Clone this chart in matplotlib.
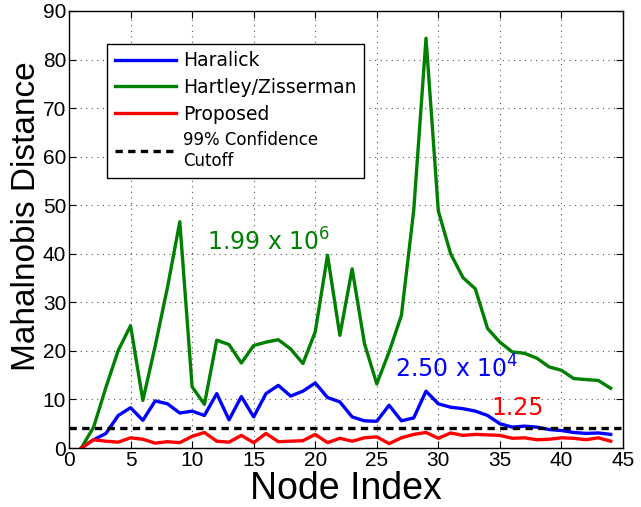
import matplotlib
matplotlib.use("Agg")
import matplotlib.pyplot as plt

node = list(range(1, 45))
haralick = [0, 1.7, 3.0, 6.7, 8.3, 5.7, 9.7, 9.1, 7.2, 7.6, 6.7, 11.2, 5.8, 10.6, 6.4,
            11.2, 12.9, 10.7, 11.7, 13.4, 10.4, 9.5, 6.4, 5.6, 5.5, 8.8, 5.6, 6.2, 11.7,
            9.1, 8.4, 8.1, 7.6, 6.7, 5.0, 4.3, 4.5, 4.3, 3.8, 3.6, 3.2, 3.0, 3.1, 2.8]
hartley = [0, 4.3, 12.5, 20.1, 25.2, 9.8, 21.0, 33.1, 46.6, 12.6, 9.0, 22.2, 21.3, 17.5,
           21.1, 21.8, 22.3, 20.4, 17.4, 23.9, 39.7, 23.2, 36.9, 21.5, 13.2, 19.8, 27.3,
           48.9, 84.4, 48.8, 40.0, 35.1, 32.8, 24.6, 21.8, 19.8, 19.5, 18.5, 16.7, 16.0,
           14.3, 14.1, 13.9, 12.3]
proposed = [0, 1.7, 1.4, 1.2, 2.1, 1.8, 1.0, 1.3, 1.1, 2.4, 3.2, 1.4, 1.2, 2.6, 1.1,
            3.0, 1.3, 1.4, 1.5, 2.8, 1.1, 2.0, 1.4, 2.1, 2.3, 0.9, 2.1, 2.8, 3.2, 2.0,
            3.1, 2.6, 2.8, 2.7, 2.6, 2.0, 2.1, 1.7, 1.8, 2.1, 2.0, 1.7, 2.1, 1.4]
cutoff = 4.1
labels = ["Haralick", "Hartley/Zisserman", "Proposed", "99% Confidence\nCutoff"]
x_ticks = [0, 5, 10, 15, 20, 25, 30, 35, 40, 45]
y_ticks = [0, 10, 20, 30, 40, 50, 60, 70, 80, 90]

axfont = ['Liberation Sans', 'DejaVu Sans']

fig = plt.figure(figsize=(6.41, 5.07), dpi=100)
ax = fig.add_axes([69/641, 1 - 448/507, 554/641, 437/507])

lw = 2.4
l1, = ax.plot(node, haralick, color=(0, 0, 1), lw=lw, label=labels[0])
l2, = ax.plot(node, hartley, color=(0, 0.5, 0), lw=lw, label=labels[1])
l3, = ax.plot(node, proposed, color=(1, 0, 0), lw=lw, label=labels[2])
l4 = ax.axhline(cutoff, color='black', lw=lw, ls=(0, (2.2, 1.6)), label=labels[3])

ax.set_xlim(0, 45)
ax.set_ylim(0, 90)
ax.set_xticks(x_ticks)
ax.set_yticks(y_ticks)
ax.grid(True, color='#555555', ls=(0, (1, 4)), lw=0.8)
ax.tick_params(direction='in', top=True, right=True, length=5, labelsize=15, pad=2)
for s in ax.spines.values():
    s.set_linewidth(1.0)

for lab in ax.get_xticklabels() + ax.get_yticklabels():
    lab.set_family(axfont)

ax.set_xlabel("Node Index", fontsize=27, family=axfont)
ax.xaxis.set_label_coords(0.5, -(507 - 448) / 437)
ax.xaxis.label.set_va('bottom')
ax.set_ylabel("Mahalnobis Distance", fontsize=24, family=axfont)
ax.yaxis.set_label_coords(-27/554, (448-216)/437)

ax.text(11.2, 40.7, r"1.99 x 10$^6$", color=(0, 0.5, 0), fontsize=17)
ax.text(26.5, 14.6, r"2.50 x 10$^4$", color=(0, 0, 1), fontsize=17)
ax.text(34.3, 6.7, "1.25", color=(1, 0, 0), fontsize=17)

leg = ax.legend(handles=[l1, l2, l3, l4], loc='upper left',
                bbox_to_anchor=((107-69)/554, (448-44)/437), borderaxespad=0,
                fontsize=13.5, handlelength=3.3, handletextpad=0.35, labelspacing=0.4,
                borderpad=0.4, fancybox=False, framealpha=1, edgecolor='black')
leg.get_frame().set_linewidth(1.0)
t4 = leg.get_texts()[3]
t4.set_fontsize(12)
t4.set_linespacing(1.25)

fig.savefig("out.png", dpi=100)
